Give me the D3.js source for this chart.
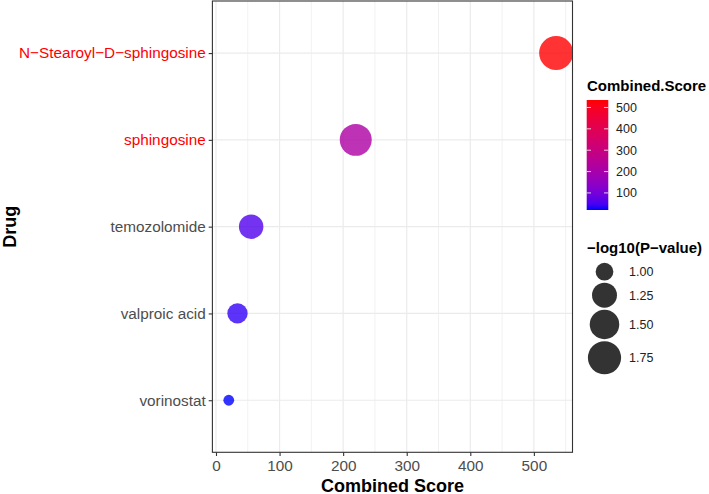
<!DOCTYPE html>
<html>
<head>
<meta charset="utf-8">
<script src="https://cdn.jsdelivr.net/npm/d3@7"></script>
<style>
  body { margin: 0; background: #fff; }
  text { font-family: "Liberation Sans", Arial, sans-serif; }
</style>
</head>
<body>
<div id="chart"></div>
<script>
var width = 709, height = 494;

// data
var drugs = ["N\u2212Stearoyl\u2212D\u2212sphingosine", "sphingosine", "temozolomide", "valproic acid", "vorinostat"];
var scores = [535, 219.8, 55.3, 33.8, 20.1];
var logP = [1.81, 1.66, 1.23, 1.07, 0.92];
var highlighted = ["N\u2212Stearoyl\u2212D\u2212sphingosine", "sphingosine"];
var xTicks = [0, 100, 200, 300, 400, 500];
var xMinor = [50, 150, 250, 350, 450, 550];
var scoreTicks = [100, 200, 300, 400, 500];
var sizeBreaks = [1.00, 1.25, 1.50, 1.75];

var data = drugs.map(function(d, i) {
  return { drug: d, score: scores[i], p: logP[i] };
});

var panel = { left: 212.4, right: 572.5, top: 1, bottom: 452.3 };

var svg = d3.select('#chart').append('svg')
  .attr('width', width)
  .attr('height', height)
  .style('background-color', 'white');

// x scale with ggplot style 5% expansion
var ext = d3.extent(scores);
var pad = (ext[1] - ext[0]) * 0.05;
var x = d3.scaleLinear()
  .domain([ext[0] - pad, ext[1] + pad])
  .range([panel.left, panel.right]);

var y = d3.scalePoint()
  .domain(drugs)
  .range([panel.top, panel.bottom])
  .padding(0.6);

var color = d3.scaleLinear()
  .domain(ext)
  .range(["blue", "red"])
  .interpolate(d3.interpolateLab);

// size: radius linear in sqrt of rescaled value
var pExt = d3.extent(logP);
var rescale = d3.scaleLinear().domain(pExt).range([0, 1]).clamp(true);
var rLin = d3.scaleLinear().domain([0, 1]).range([5.4, 17]);
function radius(v) { return rLin(Math.sqrt(rescale(v))); }

// grid
var grid = svg.append('g');
grid.selectAll('line.minor')
  .data(xMinor.filter(function(d) { return x(d) < panel.right; }))
  .enter().append('line')
  .attr('x1', function(d) { return x(d); })
  .attr('x2', function(d) { return x(d); })
  .attr('y1', panel.top).attr('y2', panel.bottom)
  .style('stroke', '#EBEBEB').style('stroke-width', 0.7);
grid.selectAll('line.vmajor')
  .data(xTicks)
  .enter().append('line')
  .attr('x1', function(d) { return x(d); })
  .attr('x2', function(d) { return x(d); })
  .attr('y1', panel.top).attr('y2', panel.bottom)
  .style('stroke', '#EBEBEB').style('stroke-width', 1.2);
grid.selectAll('line.hmajor')
  .data(drugs)
  .enter().append('line')
  .attr('x1', panel.left).attr('x2', panel.right)
  .attr('y1', function(d) { return y(d); })
  .attr('y2', function(d) { return y(d); })
  .style('stroke', '#EBEBEB').style('stroke-width', 1.2);

svg.append('clipPath').attr('id', 'clip')
  .append('rect')
  .attr('x', panel.left).attr('y', panel.top)
  .attr('width', panel.right - panel.left)
  .attr('height', panel.bottom - panel.top);

svg.append('g').attr('clip-path', 'url(#clip)')
  .selectAll('circle')
  .data(data)
  .enter().append('circle')
  .attr('cx', function(d) { return x(d.score); })
  .attr('cy', function(d) { return y(d.drug); })
  .attr('r', function(d) { return radius(d.p); })
  .style('fill', function(d) { return color(d.score); })
  .style('fill-opacity', 0.8);

svg.append('rect')
  .attr('x', panel.left).attr('y', panel.top)
  .attr('width', panel.right - panel.left)
  .attr('height', panel.bottom - panel.top)
  .style('fill', 'none')
  .style('stroke', '#333333')
  .style('stroke-width', 1.1);

// axes
var xAxis = svg.append('g')
  .attr('transform', 'translate(0,' + panel.bottom + ')')
  .call(d3.axisBottom(x).tickValues(xTicks).tickSize(3.7).tickPadding(4));
var yAxis = svg.append('g')
  .attr('transform', 'translate(' + panel.left + ',0)')
  .call(d3.axisLeft(y).tickSize(3.7).tickPadding(3));

[xAxis, yAxis].forEach(function(a) {
  a.select('.domain').remove();
  a.selectAll('.tick line').style('stroke', '#333333').style('stroke-width', 1.1);
  a.selectAll('.tick text')
    .style('font-size', '15.3px')
    .style('font-family', '"Liberation Sans", Arial, sans-serif')
    .style('fill', '#4D4D4D');
});
yAxis.selectAll('.tick text')
  .style('fill', function(d) { return highlighted.indexOf(d) >= 0 ? '#FF0000' : '#4D4D4D'; });

svg.append('text')
  .attr('x', (panel.left + panel.right) / 2)
  .attr('y', 491.5)
  .attr('text-anchor', 'middle')
  .style('font-size', '18px').style('font-weight', 'bold')
  .text('Combined Score');

svg.append('text')
  .attr('transform', 'translate(16,' + ((panel.top + panel.bottom) / 2) + ') rotate(-90)')
  .attr('text-anchor', 'middle')
  .style('font-size', '18px').style('font-weight', 'bold')
  .text('Drug');

// colour bar legend
var leg1 = svg.append('g');
leg1.append('text')
  .attr('x', 587).attr('y', 91)
  .style('font-size', '15px').style('font-weight', 'bold')
  .text('Combined.Score');

var barX = 586.7, barW = 21.6, barTop = 100, barBottom = 210;
var grad = svg.append('defs').append('linearGradient')
  .attr('id', 'grad')
  .attr('x1', 0).attr('y1', 1).attr('x2', 0).attr('y2', 0);
d3.range(0, 1.0001, 0.05).forEach(function(t) {
  grad.append('stop')
    .attr('offset', t)
    .attr('stop-color', color(ext[0] + t * (ext[1] - ext[0])));
});
leg1.append('rect')
  .attr('x', barX).attr('y', barTop)
  .attr('width', barW).attr('height', barBottom - barTop)
  .style('fill', 'url(#grad)');

var barY = d3.scaleLinear().domain(ext).range([barBottom, barTop]);
leg1.selectAll('line.tl')
  .data(scoreTicks)
  .enter().append('line')
  .attr('x1', barX).attr('x2', barX + 4.3)
  .attr('y1', function(d) { return barY(d); })
  .attr('y2', function(d) { return barY(d); })
  .style('stroke', 'white').style('stroke-width', 0.8);
leg1.selectAll('line.tr')
  .data(scoreTicks)
  .enter().append('line')
  .attr('x1', barX + barW - 4.3).attr('x2', barX + barW)
  .attr('y1', function(d) { return barY(d); })
  .attr('y2', function(d) { return barY(d); })
  .style('stroke', 'white').style('stroke-width', 0.8);
leg1.selectAll('text.lab')
  .data(scoreTicks)
  .enter().append('text')
  .attr('x', 616)
  .attr('y', function(d) { return barY(d); })
  .attr('dy', '0.36em')
  .style('font-size', '12.5px').style('fill', '#222')
  .text(function(d) { return d; });

// size legend
var leg2 = svg.append('g');
leg2.append('text')
  .attr('x', 587).attr('y', 252.5)
  .style('font-size', '15px').style('font-weight', 'bold')
  .text('\u2212log10(P\u2212value)');

var keyTop = 261.7;
var keys = sizeBreaks.map(function(v) {
  var h = Math.max(20, 2 * radius(v) + 2);
  var k = { v: v, cy: keyTop + h / 2 };
  keyTop += h;
  return k;
});
leg2.selectAll('circle')
  .data(keys)
  .enter().append('circle')
  .attr('cx', 604.5)
  .attr('cy', function(d) { return d.cy; })
  .attr('r', function(d) { return radius(d.v); })
  .style('fill', 'black').style('fill-opacity', 0.8);
leg2.selectAll('text.lab')
  .data(keys)
  .enter().append('text')
  .attr('x', 629)
  .attr('y', function(d) { return d.cy; })
  .attr('dy', '0.36em')
  .style('font-size', '12.5px').style('fill', '#222')
  .text(function(d) { return d3.format('.2f')(d.v); });
</script>
</body>
</html>
